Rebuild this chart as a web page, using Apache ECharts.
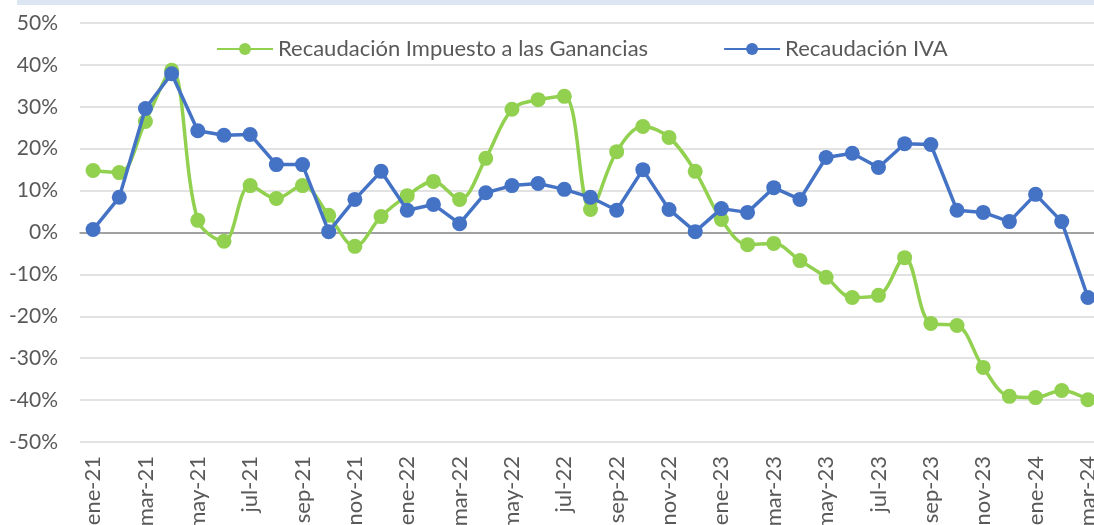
<!DOCTYPE html>
<html>
<head>
<meta charset="utf-8">
<script src="https://cdn.jsdelivr.net/npm/echarts@6/dist/echarts.min.js"></script>
<style>
  html, body { margin: 0; padding: 0; background: #fff; }
  #chart { width: 1094px; height: 525px; }
</style>
</head>
<body>
<div id="chart"></div>
<script>
const months = [
  'ene-21','feb-21','mar-21','abr-21','may-21','jun-21','jul-21','ago-21','sep-21','oct-21','nov-21','dic-21',
  'ene-22','feb-22','mar-22','abr-22','may-22','jun-22','jul-22','ago-22','sep-22','oct-22','nov-22','dic-22',
  'ene-23','feb-23','mar-23','abr-23','may-23','jun-23','jul-23','ago-23','sep-23','oct-23','nov-23','dic-23',
  'ene-24','feb-24','mar-24'
];

// variación interanual real, en %
const ganancias = [
  14.8, 14.3, 26.5, 38.7, 2.9, -2.1, 11.2, 8.1, 11.2, 4.1, -3.3, 3.8,
  8.8, 12.2, 7.9, 17.7, 29.4, 31.7, 32.5, 5.5, 19.3, 25.3, 22.7, 14.6,
  3.1, -2.9, -2.6, -6.7, -10.7, -15.5, -15.0, -6.0, -21.7, -22.2, -32.2, -39.1,
  -39.4, -37.7, -39.9
];

const iva = [
  0.7, 8.4, 29.6, 37.9, 24.3, 23.2, 23.4, 16.2, 16.2, 0.2, 7.9, 14.6,
  5.3, 6.7, 2.1, 9.5, 11.2, 11.7, 10.3, 8.4, 5.3, 15.0, 5.5, 0.2,
  5.7, 4.8, 10.7, 7.9, 17.9, 18.9, 15.5, 21.2, 21.0, 5.3, 4.8, 2.6,
  9.1, 2.6, -15.5
];

const FONT = 'Lato';
const GREY = '#595959';

const chart = echarts.init(document.getElementById('chart'));

chart.setOption({
  animation: false,
  textStyle: { fontFamily: FONT },
  graphic: [{
    type: 'rect',
    shape: { x: 17, y: 0, width: 1077, height: 5 },
    style: { fill: '#dce6f2' },
    silent: true
  }],
  legend: {
    top: 33,
    left: 211,
    itemWidth: 56,
    itemHeight: 15,
    itemGap: 75,
    textStyle: { fontSize: 22, color: GREY, fontFamily: FONT },
    data: ['Recaudación Impuesto a las Ganancias', 'Recaudación IVA']
  },
  grid: { left: 80, width: 1021, top: 23, bottom: 83, outerBoundsMode: 'none', containLabel: false },
  xAxis: [{
    type: 'category',
    data: months,
    axisLine: { onZero: true, lineStyle: { color: '#8c8c8c', width: 1.5 } },
    axisTick: { interval: 1, length: 6, lineStyle: { color: '#8c8c8c', width: 1.5 } },
    axisLabel: { show: false }
  }, {
    type: 'category',
    data: months,
    position: 'bottom',
    axisLine: { show: false, onZero: false },
    axisTick: { show: false },
    axisLabel: {
      interval: 1,
      rotate: 90,
      margin: 14,
      fontSize: 22,
      color: GREY,
      fontFamily: FONT
    }
  }],
  yAxis: {
    type: 'value',
    min: -50,
    max: 50,
    interval: 10,
    axisLine: { show: false },
    axisTick: { show: false },
    axisLabel: {
      formatter: '{value}%',
      margin: 22,
      fontSize: 21,
      color: GREY,
      fontFamily: FONT
    },
    splitLine: { lineStyle: { color: '#d9d9d9', width: 1.5 } }
  },
  series: [{
    name: 'Recaudación Impuesto a las Ganancias',
    type: 'line',
    xAxisIndex: 0,
    data: ganancias,
    smooth: 0.35,
    symbol: 'circle',
    symbolSize: 15,
    lineStyle: { color: '#92d050', width: 3.5 },
    itemStyle: { color: '#92d050' },
    z: 2
  }, {
    name: 'Recaudación IVA',
    type: 'line',
    xAxisIndex: 0,
    data: iva,
    symbol: 'circle',
    symbolSize: 15,
    lineStyle: { color: '#4472c4', width: 3.5 },
    itemStyle: { color: '#4472c4' },
    z: 3
  }]
});
</script>
</body>
</html>
